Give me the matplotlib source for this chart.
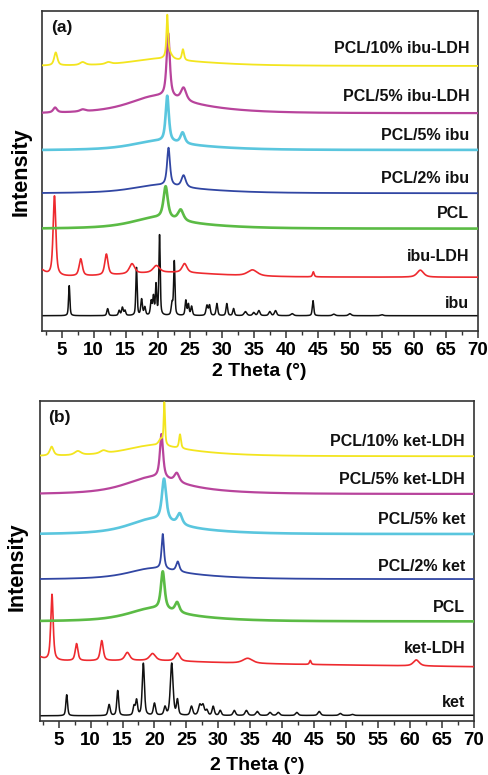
import numpy as np
import matplotlib
matplotlib.use("Agg")
import matplotlib.pyplot as plt

plt.rcParams['font.family'] = ['Liberation Sans', 'DejaVu Sans']
plt.rcParams['font.weight'] = 'bold'

# ---------------- data ----------------
# Each trace: label, colour, baseline at 2 deg, baseline at 70 deg, peaks (centre 2theta, height, FWHM)
two_theta_range = (2, 70)

# panel (a)
a_labels = ["ibu", "ibu-LDH", "PCL", "PCL/2% ibu", "PCL/5% ibu", "PCL/5% ibu-LDH", "PCL/10% ibu-LDH"]
a_colors = ["#111111", "#ee2a2f", "#5bbb45", "#3146a3", "#5ac6de", "#b8449c", "#f3e51f"]
a_base_left = [15.3, 53.5, 102.0, 137.5, 180.5, 217.0, 265.0]
a_base_right = [15.3, 53.7, 102.3, 137.7, 181.0, 217.7, 265.0]
a_label_y = [27.7, 75, 117.7, 152.7, 196, 235, 282.7]
a_eta = [0.5, 0.65, 0.75, 0.75, 0.75, 0.75, 0.7]

ibu_peaks = [(6.2, 30, 0.24), (12.2, 7, 0.3), (14.0, 5, 0.3), (14.5, 8, 0.3), (14.9, 5, 0.3),
             (16.7, 48, 0.24), (17.5, 16, 0.3), (18.0, 8, 0.3), (19.0, 14, 0.3), (19.35, 18, 0.25),
             (19.75, 30, 0.24), (20.3, 80, 0.24), (22.25, 12, 0.3), (22.6, 54, 0.24), (24.4, 15, 0.27),
             (24.8, 11, 0.27), (25.3, 9, 0.3), (27.7, 10, 0.35), (28.1, 10, 0.3), (29.25, 12, 0.3),
             (30.8, 12, 0.3), (31.85, 7, 0.3), (33.7, 4, 0.5), (35.0, 3, 0.4), (35.8, 5, 0.4),
             (37.5, 4, 0.4), (38.4, 5, 0.4), (41.0, 2, 0.5), (44.25, 15, 0.27), (47.5, 1.5, 0.5),
             (50.0, 2, 0.5), (55.0, 1, 0.5)]
ibu_ldh_peaks = [(1.5, 8, 2.0), (3.9, 80, 0.5), (8.0, 17, 0.6), (12.0, 21, 0.6), (16.0, 10, 1.0),
                 (19.8, 7, 1.2), (24.2, 9, 0.9), (22.0, 5, 18), (34.8, 6, 1.8), (44.3, 5, 0.3),
                 (61.0, 7, 1.2)]
pcl_a_peaks = [(19.5, 9, 9), (25.0, 3, 16), (21.25, 32, 0.8), (23.6, 11, 1.0)]
pcl2_ibu_peaks = [(19.5, 6, 9), (25.0, 3, 16), (21.7, 38, 0.55), (24.05, 12, 0.8)]
pcl5_ibu_peaks = [(19.5, 7, 9), (25.0, 3, 16), (21.5, 46, 0.6), (23.9, 11, 0.8)]
pcl5_ibuldh_peaks = [(19.5, 14, 10), (25.0, 5, 16), (21.65, 64, 0.6), (24.05, 13, 1.0),
                     (4.0, 5, 0.7), (8.3, 2, 1.0)]
pcl10_ibuldh_peaks = [(19.5, 5, 9), (25.0, 3, 16), (21.5, 40, 0.3), (21.8, 6, 1.0),
                      (23.95, 11, 0.4), (4.1, 13, 0.6), (8.3, 3, 1.0), (12.3, 2, 1.0)]
a_peaks = [ibu_peaks, ibu_ldh_peaks, pcl_a_peaks, pcl2_ibu_peaks, pcl5_ibu_peaks,
           pcl5_ibuldh_peaks, pcl10_ibuldh_peaks]

# panel (b)
b_labels = ["ket", "ket-LDH", "PCL", "PCL/2% ket", "PCL/5% ket", "PCL/5% ket-LDH", "PCL/10% ket-LDH"]
b_colors = a_colors
b_base_left = [5.5, 60.0, 99.5, 141.5, 186.5, 226.5, 264.5]
b_base_right = [6.0, 54.5, 99.7, 142.0, 187.0, 227.0, 264.7]
b_label_y = [18.6, 73, 114, 154.6, 202, 241.3, 279.6]
b_eta = [0.5, 0.65, 0.75, 0.75, 0.75, 0.75, 0.7]

ket_peaks = [(6.26, 21, 0.32), (12.9, 11, 0.4), (14.25, 25, 0.35), (16.8, 9, 0.35), (17.2, 15, 0.35),
             (18.26, 52, 0.4), (20.0, 12, 0.4), (21.65, 8, 0.4), (22.7, 52, 0.5), (23.6, 15, 0.35),
             (25.8, 9, 0.45), (27.1, 10, 0.5), (27.6, 10, 0.5), (28.2, 5, 0.4), (29.2, 9, 0.4),
             (30.3, 5, 0.4), (32.5, 5, 0.45), (34.4, 5, 0.5), (36.1, 4, 0.5), (38.1, 3, 0.5),
             (39.4, 3, 0.5), (42.3, 3, 0.5), (45.8, 4, 0.5), (49.1, 2, 0.5), (51.0, 1, 0.5)]
ket_ldh_peaks = [(1.5, 5, 2.0), (3.95, 66, 0.45), (7.8, 17, 0.5), (11.75, 20, 0.55), (15.75, 8, 0.9),
                 (19.7, 7, 1.1), (23.6, 8, 0.9), (20.0, 2, 20), (34.6, 5, 1.8), (44.4, 4, 0.3),
                 (61.0, 6, 1.1)]
pcl_b_peaks = [(19.5, 11, 9), (25.0, 3, 16), (21.3, 38, 0.7), (23.55, 10, 0.8)]
pcl2_ket_peaks = [(19.5, 9, 9), (25.0, 3, 16), (21.3, 35, 0.45), (23.65, 10, 0.6)]
pcl5_ket_peaks = [(19.5, 13, 9), (25.0, 3, 16), (21.5, 42, 0.8), (23.95, 11, 0.9)]
pcl5_ketldh_peaks = [(19.5, 15, 10), (25.0, 3, 16), (21.1, 44, 0.6), (23.5, 9, 0.9)]
pcl10_ketldh_peaks = [(19.5, 9, 10), (25.0, 3, 16), (21.0, 6, 0.8), (21.55, 42, 0.25),
                      (24.0, 14, 0.35), (3.9, 9, 0.7), (8.0, 4, 1.2), (12.0, 3, 1.2)]
b_peaks = [ket_peaks, ket_ldh_peaks, pcl_b_peaks, pcl2_ket_peaks, pcl5_ket_peaks,
           pcl5_ketldh_peaks, pcl10_ketldh_peaks]

xticks_major = [5, 10, 15, 20, 25, 30, 35, 40, 45, 50, 55, 60, 65, 70]


# ---------------- drawing ----------------
def pattern(x, base_l, base_r, peaks, eta):
    y = base_l + (base_r - base_l) * (x - x[0]) / (x[-1] - x[0])
    for c, h, w in peaks:
        u = (x - c) / (w / 2.0)
        y = y + h * (eta / (1 + u ** 2) + (1 - eta) * np.exp(-np.log(2) * u ** 2))
    return y


fig = plt.figure(figsize=(4.89, 7.75), dpi=100)
ax_a = fig.add_axes([0.0865, 0.5729, 0.891, 0.4129])
ax_b = fig.add_axes([0.0808, 0.0693, 0.888, 0.4133])

x = np.linspace(two_theta_range[0], two_theta_range[1], 4000)

lws = [1.1, 1.2, 1.9, 1.3, 1.9, 1.6, 1.3]

for ax, labels, colors, bl, br, pk, ly, etas, tag in [
        (ax_a, a_labels, a_colors, a_base_left, a_base_right, a_peaks, a_label_y, a_eta, "(a)"),
        (ax_b, b_labels, b_colors, b_base_left, b_base_right, b_peaks, b_label_y, b_eta, "(b)")]:
    for i in range(len(labels)):
        y = pattern(x, bl[i], br[i], pk[i], etas[i])
        ax.plot(x, y, color=colors[i], lw=lws[i], zorder=2 + i)
        ax.text(0.98, ly[i], labels[i], transform=ax.get_yaxis_transform(),
                ha='right', va='center', fontsize=11.5, fontweight='bold', color='#111111')
    ax.text(0.02, 304, tag, transform=ax.get_yaxis_transform(), ha='left', va='center',
            fontsize=12.5, fontweight='bold', color='#111111')
    ax.set_xlim(*two_theta_range)
    ax.set_ylim(0, 320)
    ax.set_yticks([])
    ax.set_xticks(xticks_major)
    ax.set_xticks(np.arange(2.5, 70, 5), minor=True)
    ax.tick_params(axis='x', which='major', direction='out', length=5, width=1.1,
                   labelsize=13.5, pad=3, color='#333333')
    ax.tick_params(axis='x', which='minor', direction='out', length=3, width=1.0, color='#333333')
    for lab in ax.get_xticklabels():
        lab.set_fontweight('bold')
    for s in ax.spines.values():
        s.set_linewidth(1.2)
        s.set_color('#333333')

fig.text(0.043, 1 - 172 / 775, "Intensity", rotation=90, ha='center', va='center',
         fontsize=15.5, fontweight='bold')
fig.text(0.034, 1 - 566.7 / 775, "Intensity", rotation=90, ha='center', va='center',
         fontsize=15.5, fontweight='bold')
fig.text(259 / 489, 1 - 372 / 775, "2 Theta (°)", ha='center', va='center',
         fontsize=14, fontweight='bold')
fig.text(257 / 489, 1 - 765 / 775, "2 Theta (°)", ha='center', va='center',
         fontsize=14, fontweight='bold')

fig.savefig("out.png", dpi=100)
